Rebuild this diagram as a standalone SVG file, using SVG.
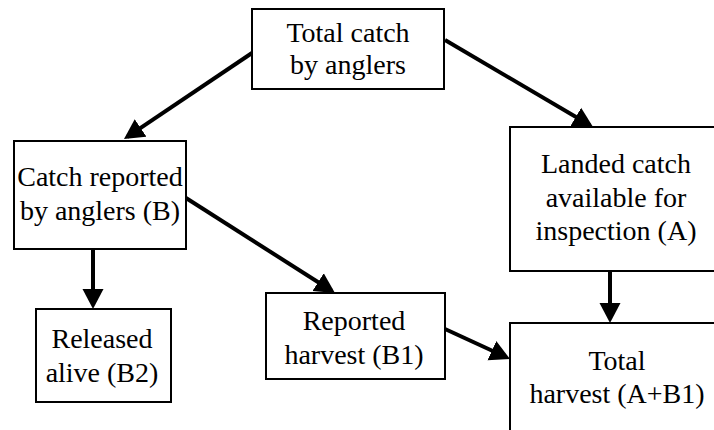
<svg xmlns="http://www.w3.org/2000/svg" width="714" height="430" viewBox="0 0 714 430">
  <style>
    .box { fill: #ffffff; stroke: #000000; stroke-width: 2; }
    .lbl { font-family: 'Liberation Serif', 'DejaVu Serif', serif; font-size: 28px; fill: #000000; text-anchor: middle; }
    .edge { stroke: #000000; stroke-width: 4; fill: none; marker-end: url(#head); }
  </style>
  <defs>
    <!-- solid triangular arrowhead; tip sits 4px beyond the line end -->
    <marker id="head" markerUnits="userSpaceOnUse" markerWidth="22" markerHeight="22" refX="16" refY="10.5" orient="auto" viewBox="0 0 22 21">
      <path d="M0,0 L20,10.5 L0,21 z" fill="#000000"/>
    </marker>
  </defs>
  <rect width="714" height="430" fill="#ffffff"/>

  <g id="connectors">
    <line class="edge" x1="252" y1="53" x2="127.3" y2="136.8"/>
    <line class="edge" x1="445" y1="40" x2="589.6" y2="125"/>
    <line class="edge" x1="93" y1="249" x2="93" y2="305"/>
    <line class="edge" x1="186" y1="198" x2="331.6" y2="290.8"/>
    <line class="edge" x1="610" y1="271" x2="610" y2="319"/>
    <line class="edge" x1="445" y1="329" x2="506.4" y2="357.3"/>
  </g>

  <g id="total-catch">
    <rect class="box" x="252" y="9" width="192" height="80"/>
    <text class="lbl" x="348" y="42">Total catch</text>
    <text class="lbl" x="348" y="74">by anglers</text>
  </g>

  <g id="catch-reported">
    <rect class="box" x="14" y="141" width="172" height="108"/>
    <text class="lbl" x="100" y="186">Catch reported</text>
    <text class="lbl" x="100" y="220">by anglers (B)</text>
  </g>

  <g id="landed-catch">
    <rect class="box" x="510" y="127" width="215" height="144"/>
    <text class="lbl" x="616" y="173">Landed catch</text>
    <text class="lbl" x="616" y="207">available for</text>
    <text class="lbl" x="616" y="240">inspection (A)</text>
  </g>

  <g id="released-alive">
    <rect class="box" x="36" y="309" width="135" height="93"/>
    <text class="lbl" x="102" y="348">Released</text>
    <text class="lbl" x="102" y="382">alive (B2)</text>
  </g>

  <g id="reported-harvest">
    <rect class="box" x="266" y="293" width="179" height="86"/>
    <text class="lbl" x="354" y="330">Reported</text>
    <text class="lbl" x="354" y="364">harvest (B1)</text>
  </g>

  <g id="total-harvest">
    <rect class="box" x="510" y="323" width="215" height="120"/>
    <text class="lbl" x="617" y="370">Total</text>
    <text class="lbl" x="617" y="403">harvest (A+B1)</text>
  </g>
</svg>
